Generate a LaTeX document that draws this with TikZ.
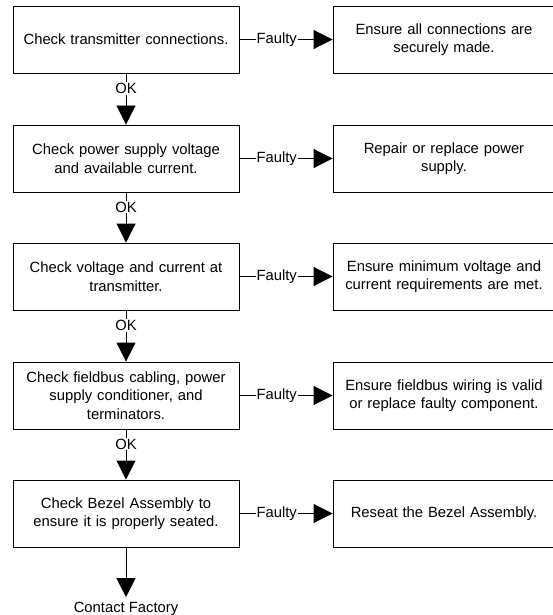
\documentclass[tikz,border=0pt]{standalone}
\usepackage{fontspec}
\setmainfont{Liberation Sans}
\usetikzlibrary{arrows.meta}
\begin{document}
\begin{tikzpicture}[x=1pt,y=-1pt,
  box/.style={draw=black,line width=0.9pt,rectangle,minimum height=67pt,align=center,inner sep=2pt,
    font=\fontsize{14.8}{18.5}\selectfont},
  lbox/.style={box,minimum width=226pt,text width=222pt},
  rbox/.style={box,minimum width=222pt,text width=218pt},
  arr/.style={line width=0.9pt,-{Triangle[length=19pt,width=19pt]}},
  lbl/.style={fill=white,inner sep=1pt,font=\fontsize{14.8}{18}\selectfont}]
\clip (0,0) rectangle (553,615);
\node[lbox] (l1) at (126,39.5) {Check transmitter connections.};
\node[lbox] (l2) at (126,158.5) {Check power supply voltage\\and available current.};
\node[lbox] (l3) at (126,276.5) {Check voltage and current at\\transmitter.};
\node[lbox] (l4) at (126,395.5) {Check fieldbus cabling, power\\supply conditioner, and\\terminators.};
\node[lbox] (l5) at (126,513.5) {Check Bezel Assembly to\\ensure it is properly seated.};
\node[rbox] (r1) at (444,39.5) {Ensure all connections are\\securely made.};
\node[rbox] (r2) at (444,158.5) {Repair or replace power\\supply.};
\node[rbox] (r3) at (444,276.5) {Ensure minimum voltage and\\current requirements are met.};
\node[rbox] (r4) at (444,395.5) {Ensure fieldbus wiring is valid\\or replace faulty component.};
\node[rbox] (r5) at (444,513.5) {Reseat the Bezel Assembly.};
\node[inner sep=0pt,outer sep=4.5pt,anchor=base,font=\fontsize{14.8}{18}\selectfont] (cf) at (126,612) {Contact Factory};
\foreach \i in {1,...,5}{
  \draw[arr] (l\i.east) -- node[lbl,pos=0.4]{Faulty} (r\i.west);
}
\foreach \i/\j in {1/2,2/3,3/4,4/5}{
  \draw[arr] (l\i.south) -- node[lbl,pos=0.29]{OK} (l\j.north);
}
\draw[arr] (l5.south) -- (cf.north);
\end{tikzpicture}
\end{document}
